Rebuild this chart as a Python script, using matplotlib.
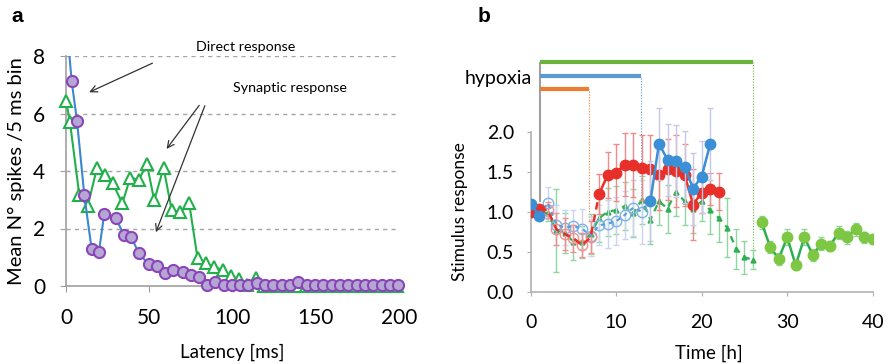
import matplotlib
matplotlib.use("Agg")
import matplotlib.pyplot as plt
import numpy as np

plt.rcParams['font.family'] = ['Lato', 'DejaVu Sans']

# ---------------- Panel a data ----------------
purple_x = [0, 3.4, 6.6, 11, 15.4, 19.8, 23, 29.8, 35, 39.2, 43.8, 49.6, 54.4, 59.4, 64.4,
            70, 74.8, 79.6, 84.4, 89.6, 94.6, 99.6, 104.6, 109.6, 114.6, 119.6, 124.6, 129.6,
            134.6, 139.6, 144.6, 149.6, 154.6, 159.6, 164.6, 169.6, 174.6, 179.6, 184.6, 189.6,
            194.6, 199.6]
purple_y = [9.4, 7.12, 5.75, 3.16, 1.28, 1.20, 2.52, 2.37, 1.76, 1.69, 1.14, 0.75, 0.69, 0.44, 0.56,
            0.47, 0.38, 0.30, 0.03, 0.13, 0.03, 0.03, 0.03, 0.03, 0.10, 0.03, 0.03, 0.03,
            0.03, 0.15, 0.03, 0.03, 0.03, 0.03, 0.03, 0.03, 0.03, 0.03, 0.03, 0.03,
            0.03, 0.03]

green_x = [0, 2.4, 8, 13, 18.6, 23.4, 28.2, 33.8, 38.6, 43.6, 48.6, 53, 58.6, 63.4, 68.6,
           74, 79, 84, 89, 94, 99, 104, 109, 114, 119, 124, 129, 134, 139, 144, 149, 154,
           159, 164, 169, 174, 179, 184, 189, 194, 199]
green_y = [6.45, 5.69, 3.16, 2.77, 4.11, 3.85, 3.57, 2.87, 3.77, 3.69, 4.23, 2.98, 4.11, 2.66, 2.56,
           2.87, 0.97, 0.79, 0.66, 0.56, 0.35, 0.23, 0.02, 0.27, 0.0, 0.0, 0.0, 0.0, 0.0, 0.0, 0.0, 0.0,
           0.0, 0.0, 0.0, 0.0, 0.0, 0.0, 0.0, 0.0, 0.0]

a_yticks = [0, 2, 4, 6, 8]
a_xticks = [0, 50, 100, 150, 200]

# ---------------- Panel b data ----------------
red_t_pre = [0, 1]
red_pre = [1.0, 1.03]
red_pre_err = [0.05, 0.05]
red_t_open = [2, 3, 4, 5, 6, 7]
red_open = [1.02, 0.78, 0.72, 0.67, 0.58, 0.68]
red_open_err = [0.1, 0.2, 0.2, 0.17, 0.15, 0.2]
red_t_post = [8, 9, 10, 11, 12, 13, 14, 15, 16, 17, 18, 19, 20, 21, 22]
red_post = [1.22, 1.46, 1.49, 1.59, 1.58, 1.55, 1.53, 1.46, 1.53, 1.51, 1.46, 1.09, 1.24, 1.29, 1.25]
red_post_err = [0.25, 0.29, 0.36, 0.39, 0.4, 0.41, 0.43, 0.44, 0.38, 0.45, 0.39, 0.45, 0.26, 0.2, 0.23]

blue_t_pre = [0, 1]
blue_pre = [1.10, 0.95]
blue_pre_err = [0.05, 0.05]
blue_t_open = [2, 3, 4, 5, 6, 7, 8, 9, 10, 11, 12, 13]
blue_open = [1.11, 0.84, 0.80, 0.82, 0.79, 0.70, 0.83, 0.85, 0.88, 0.96, 1.05, 1.0]
blue_open_err = [0.2, 0.25, 0.22, 0.2, 0.25, 0.25, 0.25, 0.3, 0.3, 0.3, 0.35, 0.4]
blue_t_post = [14, 15, 16, 17, 18, 19, 20, 21]
blue_post = [1.13, 1.85, 1.65, 1.64, 1.56, 1.29, 1.44, 1.85]
blue_post_err = [0.5, 0.45, 0.45, 0.45, 0.45, 0.45, 0.45, 0.45]

green_t_dash = list(range(0, 27))
green_dash = [1.0, 1.0, 0.98, 0.77, 0.74, 0.62, 0.62, 0.72, 0.92, 1.0, 1.02, 1.07, 0.98, 1.15,
              0.90, 1.13, 1.04, 1.25, 1.13, 1.04, 1.13, 1.02, 0.92, 0.80, 0.54, 0.43, 0.40]
green_dash_err = [0.05, 0.05, 0.1, 0.52, 0.25, 0.22, 0.2, 0.25, 0.3, 0.3, 0.3, 0.3, 0.3, 0.3,
                  0.3, 0.3, 0.3, 0.3, 0.3, 0.3, 0.25, 0.3, 0.3, 0.37, 0.25, 0.21, 0.12]
green_t_post = list(range(27, 41))
green_post = [0.87, 0.56, 0.41, 0.68, 0.33, 0.68, 0.46, 0.60, 0.57, 0.74, 0.68, 0.78, 0.68, 0.66]
green_post_err = [0.08, 0.08, 0.07, 0.1, 0.06, 0.1, 0.07, 0.08, 0.06, 0.08, 0.08, 0.08, 0.07, 0.06]

hyp_start = 1.1
hyp_ends = [26.0, 12.95, 6.85]
hyp_levels = [2.875, 2.70, 2.53]
hyp_colors = ['#6db33f', '#5b9bd5', '#ed7d31']
hyp_drop = [0.40, 1.10, 0.90]

b_yticks = [0.0, 0.5, 1.0, 1.5, 2.0]
b_xticks = [0, 10, 20, 30, 40]

W, H = 890, 364
fig = plt.figure(figsize=(W / 100, H / 100), dpi=100)

# ---------------- Panel a ----------------
ax1 = fig.add_axes([66 / W, 1 - 286 / H, (399 - 66) / W, (286 - 56) / H])
ax1.set_xlim(0, 200)
ax1.set_ylim(0, 8)
for y in [2, 4, 6, 8]:
    ax1.axhline(y, color='#a6a6a6', lw=1.0, ls=(0, (3, 3)), zorder=0)
ax1.plot(green_x, green_y, color='#21b04b', lw=1.5, marker='^', ms=8,
         mfc='white', mec='#21b04b', mew=1.5, zorder=3, clip_on=False)
ax1.plot(purple_x, purple_y, color='#3b87d0', lw=1.5, zorder=4, clip_on=True)
ax1.plot(purple_x[1:], purple_y[1:], ls='none', marker='o', ms=8,
         mfc='#b5a6d4', mec='#8a46b9', mew=1.5, zorder=5, clip_on=False)
for s in ['top', 'right']:
    ax1.spines[s].set_visible(False)
for s in ['left', 'bottom']:
    ax1.spines[s].set_color('#a0a0a0')
    ax1.spines[s].set_linewidth(1.2)
ax1.set_xticks(a_xticks)
ax1.set_yticks(a_yticks)
ax1.tick_params(axis='both', colors='#a0a0a0', labelcolor='black', labelsize=15, length=4)
ax1.tick_params(axis='x', pad=12)
ax1.tick_params(axis='y', pad=11)
ax1.set_xlabel('Latency [ms]', fontsize=13.5, labelpad=11)
ax1.set_ylabel('Mean N° spikes /5 ms bin', fontsize=14.5, labelpad=6)

arrow_kw = dict(arrowstyle='->', color='#333333', lw=0.9, mutation_scale=12)
ax1.annotate('', xy=(12.4, 6.70), xytext=(53.4, 7.79), arrowprops=arrow_kw, annotation_clip=False)
ax1.annotate('', xy=(59.4, 4.69), xytext=(81, 6.36), arrowprops=arrow_kw, annotation_clip=False)
ax1.annotate('', xy=(53.4, 1.78), xytext=(84, 6.36), arrowprops=arrow_kw, annotation_clip=False)
ax1.text(108, 8.32, 'Direct response', fontsize=10.3, ha='center', va='center')
ax1.text(134.4, 6.89, 'Synaptic response', fontsize=10.3, ha='center', va='center')

fig.text(17 / W, 1 - 17 / H, 'a', fontsize=15, fontweight='bold', family='Liberation Sans',
         ha='center', va='center')

# ---------------- Panel b ----------------
ax2 = fig.add_axes([530.7 / W, 1 - 291.7 / H, (872.7 - 530.7) / W, (291.7 - 51.7) / H])
ax2.set_xlim(0, 40)
ax2.set_ylim(0, 3.0)

# hypoxia bars
for end, lev, col, drop in zip(hyp_ends, hyp_levels, hyp_colors, hyp_drop):
    ax2.hlines(lev, hyp_start, end, color=col, lw=3, zorder=2)
    ax2.vlines(end, drop, lev, color=col, lw=0.8, ls=(0, (1, 1.5)), zorder=1)
ax2.vlines(hyp_start, 1.12, hyp_levels[0], color='#a0a0a0', lw=1.5, zorder=1)
ax2.text(0.15, 2.67, 'hypoxia', fontsize=14, ha='right', va='center')

eb = dict(elinewidth=1.0, capsize=2.5, capthick=1.0)

# green dashed (26 h)
ax2.errorbar(green_t_dash, green_dash, yerr=green_dash_err, color='#2fae52', lw=1.6,
             ls=(0, (3, 2.5)), marker='^', ms=3.5, mfc='#2fae52', mec='#2fae52',
             ecolor='#8fd6a0', zorder=3, **eb)
ax2.errorbar(green_t_post, green_post, yerr=green_post_err, color='#2fae52', lw=1.8,
             marker='o', ms=7.5, mfc='#7dc742', mec='#7dc742', ecolor='#8fd6a0', zorder=4, **eb)

# red (7 h)
ax2.errorbar(red_t_open, red_open, yerr=red_open_err, color='#ee7a7a', lw=0, marker='o', ms=7.5,
             mfc='none', mec='#f09090', mew=1.0, ecolor='#f09090', zorder=4, **eb)
ax2.plot([red_t_pre[-1]] + red_t_open + [red_t_post[0]], [red_pre[-1]] + red_open + [red_post[0]],
         color='#e8302a', lw=1.8, ls=(0, (3, 2)), zorder=5)
ax2.errorbar(red_t_pre, red_pre, yerr=red_pre_err, color='#e8302a', lw=1.8, marker='o', ms=7.5,
             mfc='#e8302a', mec='#e8302a', ecolor='#f09090', zorder=6, **eb)
ax2.errorbar(red_t_post, red_post, yerr=red_post_err, color='#e8302a', lw=1.8, marker='o', ms=7.5,
             mfc='#e8302a', mec='#e8302a', ecolor='#f08a8a', zorder=6, **eb)

# blue (13 h)
ax2.errorbar(blue_t_open, blue_open, yerr=blue_open_err, color='#9cc3ea', lw=0, marker='o', ms=7.5,
             mfc='none', mec='#7fb2e5', mew=1.0, ecolor='#c9d4ee', zorder=3.5, **eb)
ax2.plot([blue_t_pre[-1]] + blue_t_open + [blue_t_post[0]], [blue_pre[-1]] + blue_open + [blue_post[0]],
         color='#5b9bd5', lw=1.5, ls=(0, (2, 2)), zorder=4.5)
ax2.errorbar(blue_t_pre, blue_pre, yerr=blue_pre_err, color='#3a8fd6', lw=1.8, marker='o', ms=7.5,
             mfc='#3a8fd6', mec='#3a8fd6', ecolor='#b8c6ea', zorder=7, **eb)
ax2.errorbar(blue_t_post, blue_post, yerr=blue_post_err, color='#3a8fd6', lw=1.8, marker='o', ms=7.5,
             mfc='#3a8fd6', mec='#3a8fd6', ecolor='#c4c8ea', zorder=7, **eb)

for s in ['top', 'right']:
    ax2.spines[s].set_visible(False)
for s in ['left', 'bottom']:
    ax2.spines[s].set_color('#b0b0b0')
    ax2.spines[s].set_linewidth(1.2)
ax2.spines['left'].set_bounds(0, 2.0)
ax2.set_xticks(b_xticks)
ax2.set_yticks(b_yticks)
ax2.set_yticklabels([f'{v:.1f}' for v in b_yticks])
ax2.tick_params(axis='both', colors='#b0b0b0', labelcolor='black', labelsize=14, length=3)
ax2.tick_params(axis='x', pad=13)
ax2.tick_params(axis='y', pad=9)
ax2.set_xlabel('Time [h]', fontsize=13.5)
ax2.xaxis.set_label_coords((709 - 530.7) / (872.7 - 530.7), -(345 - 291.7) / (291.7 - 51.7))
ax2.set_ylabel('Stimulus response', fontsize=12.5)
ax2.yaxis.set_label_coords(-(530.7 - 468) / (872.7 - 530.7), (291.7 - 211.7) / (291.7 - 51.7))

fig.text(484 / W, 1 - 16 / H, 'b', fontsize=15, fontweight='bold', family='Liberation Sans',
         ha='center', va='center')

fig.savefig('out.png', dpi=100)
